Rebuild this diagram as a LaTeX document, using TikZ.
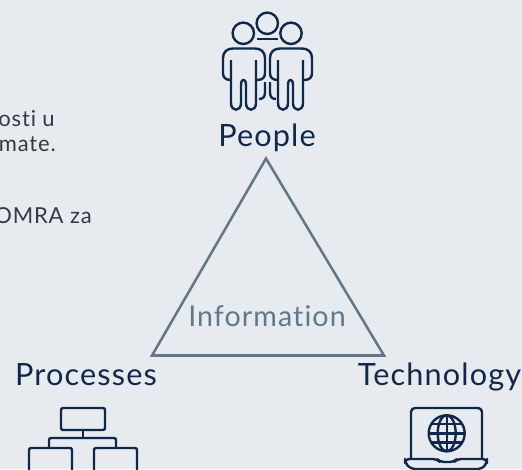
\documentclass[tikz,border=0pt]{standalone}
\usepackage{fontspec}
\setmainfont{Lato}[LetterSpace=3.7,Ligatures=NoCommon]
\definecolor{bgc}{HTML}{E7EBEF}
\definecolor{navy}{HTML}{10294A}
\definecolor{tri}{HTML}{62788A}
\definecolor{body}{HTML}{333A40}
\tikzset{
 lbl/.style={font=\fontsize{23}{25}\selectfont,text=navy,inner sep=0pt,anchor=base},
 infolbl/.style={font=\fontsize{21.5}{24}\selectfont,text=tri,inner sep=0pt,anchor=base},
 small/.style={font=\fontsize{16.5}{18}\selectfont,text=body,inner sep=0pt,anchor=base east},
 icon/.style={draw=navy,line width=1.8pt,rounded corners=1.5pt,line join=round},
}
\begin{document}
\begin{tikzpicture}[x=0.75pt,y=-0.75pt]
\useasboundingbox (0,0) rectangle (522,469);
\fill[bgc] (0,0) rectangle (522,469);
\begin{scope}
\clip (0,0) rectangle (522,469);
\node[small] (t1) at (55,126) {osti u};
\node[small] (t2) at (56,151) {mate.};
\node[small] (t3) at (92,223) {OMRA za};
% triangle
\coordinate (A) at (266,158.5);
\coordinate (B) at (152,355.5);
\coordinate (C) at (384,355.5);
\draw[tri,line width=1.9pt,line join=miter] (A) -- (B) -- (C) -- cycle;
\node[lbl] (people) at (267,146) {People};
\node[lbl] (proc) at (86,385) {Processes};
\node[lbl] (tech) at (439.5,385) {Technology};
\node[infolbl] (info) at (267,326) {Information};
% people icon
\begin{scope}[icon,rounded corners=0pt]
\draw (243.3,33.3) circle (10.7);
\draw (267.3,23.3) circle (10.7);
\draw (291,33.3) circle (10.7);
\draw (257.3,38.7) -- (278.3,38.7);
\foreach \dx in {0,47}{
\begin{scope}[shift={(\dx,0)}]
\draw (231,80) .. controls (225,80) and (223,77) .. (223,73) -- (223,58)
  .. controls (223,52) and (227,48.5) .. (233,48.5) -- (255,48.5)
  .. controls (261,48.5) and (265,52) .. (265,58) -- (265,73)
  .. controls (265,77) and (263,80) .. (257,80);
\draw (231,60) -- (231,103) .. controls (231,112) and (241,112) .. (241,103) -- (241,85)
  .. controls (241,78) and (246,78) .. (246,85) -- (246,103)
  .. controls (246,112) and (256,112) .. (256,103) -- (256,60);
\end{scope}}
\draw (265,82) -- (265,92) .. controls (265,97) and (263,99) .. (259,99);
\draw (270,82) -- (270,92) .. controls (270,97) and (272,99) .. (276,99);
\end{scope}
% process icon
\begin{scope}[icon]
\draw (61,408) rectangle (105,430);
\draw (83,430) -- (83,438);
\draw (49,448) -- (49,438) -- (116,438) -- (116,448);
\draw (29,475) -- (29,448) -- (72,448) -- (72,475);
\draw (94,475) -- (94,448) -- (137,448) -- (137,475);
\end{scope}
% technology icon
\begin{scope}[icon]
\draw[rounded corners=3pt] (411,459) -- (411,408) -- (482,408) -- (482,459);
\draw[rounded corners=3pt] (405,459) -- (437,459) -- (440,462) -- (454,462) -- (457,459) -- (487,459) -- (487,463) -- (482,469) -- (411,469) -- (405,463) -- cycle;
\draw (446.7,433.3) circle (18);
\draw (446.7,415.3) -- (446.7,451.3);
\draw (428.7,433.3) -- (464.7,433.3);
\draw (446.7,433.3) ellipse (9 and 18);
\draw (431,424) -- (462,424);
\draw (431,442.6) -- (462,442.6);
\end{scope}
\end{scope}
\end{tikzpicture}
\end{document}
